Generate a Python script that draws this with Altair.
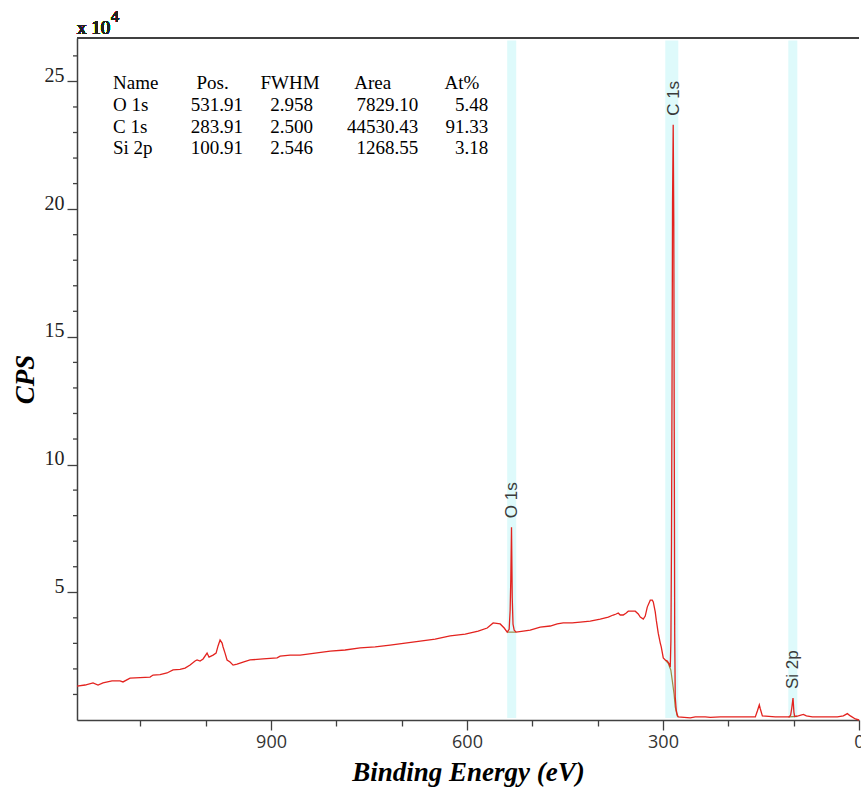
import altair as alt
import pandas as pd

# Survey spectrum: binding energy (eV) against intensity (CPS, units of 10^4)
binding_energy = [
    1197.0, 1184.7, 1172.5, 1164.8, 1157.2, 1143.4, 1131.2, 1126.6, 1115.8, 1100.5,
    1085.2, 1080.6, 1069.9, 1059.2, 1050.0, 1039.3, 1031.6, 1023.9, 1016.3, 1013.2,
    1008.6, 1004.0, 997.9, 994.9, 988.7, 984.1, 981.1, 978.0, 974.9, 973.4,
    970.4, 967.3, 962.7, 958.1, 952.0, 942.8, 932.1, 912.2, 890.7, 886.1,
    870.8, 855.5, 832.5, 809.5, 786.6, 763.6, 740.6, 717.7, 694.7, 671.7,
    648.8, 625.8, 602.8, 582.9, 569.1, 560.0, 549.2, 543.1, 538.5, 535.5,
    534.0, 533.0, 531.9, 530.8, 529.6, 527.8, 524.7, 514.0, 503.3, 488.0,
    472.6, 461.9, 452.7, 439.0, 426.7, 411.4, 396.1, 383.8, 376.2, 371.6,
    368.5, 365.5, 360.9, 356.3, 353.2, 342.5, 337.9, 334.8, 330.2, 327.2,
    324.1, 319.5, 316.4, 314.9, 311.9, 310.3, 307.3, 304.2, 302.7, 299.6,
    296.6, 293.5, 290.4, 288.9, 287.9, 287.0, 286.2, 285.4, 284.4, 283.5,
    282.8, 282.1, 281.3, 279.8, 278.2, 276.7, 258.3, 250.6, 235.3, 227.6,
    212.3, 181.7, 158.7, 155.6, 152.6, 151.0, 147.9, 128.1, 106.6, 104.6,
    103.0, 101.0, 99.6, 98.5, 92.9, 85.2, 80.6, 71.4, 51.6, 33.1,
    24.0, 17.8, 13.2, 5.6, 0.0,
]
cps = [
    1.33, 1.37, 1.45, 1.37, 1.45, 1.53, 1.53, 1.49, 1.64, 1.66,
    1.68, 1.76, 1.78, 1.84, 1.96, 1.98, 2.03, 2.15, 2.31, 2.35,
    2.31, 2.39, 2.62, 2.46, 2.54, 2.62, 2.90, 3.13, 3.01, 2.86,
    2.62, 2.35, 2.27, 2.15, 2.19, 2.27, 2.35, 2.39, 2.43, 2.50,
    2.54, 2.54, 2.62, 2.70, 2.74, 2.82, 2.86, 2.93, 3.01, 3.09,
    3.17, 3.29, 3.36, 3.48, 3.60, 3.80, 3.76, 3.60, 3.44, 3.55,
    4.30, 5.50, 7.55, 4.80, 3.75, 3.52, 3.44, 3.48, 3.52, 3.64,
    3.68, 3.76, 3.80, 3.80, 3.83, 3.87, 3.95, 4.03, 4.11, 4.15,
    4.19, 4.11, 4.11, 4.19, 4.26, 4.26, 4.15, 4.03, 3.95, 4.07,
    4.42, 4.69, 4.69, 4.62, 4.23, 3.91, 3.40, 3.01, 2.86, 2.43,
    2.35, 2.31, 2.19, 2.07, 3.10, 7.00, 13.0, 20.3, 23.3, 19.5,
    11.3, 3.40, 0.90, 0.39, 0.20, 0.12, 0.08, 0.12, 0.12, 0.10,
    0.12, 0.12, 0.12, 0.35, 0.59, 0.43, 0.16, 0.12, 0.12, 0.20,
    0.45, 0.86, 0.30, 0.14, 0.16, 0.22, 0.16, 0.12, 0.12, 0.12,
    0.16, 0.25, 0.16, 0.04, 0.0,
]

# Fitted components
comp_names = ["O 1s", "C 1s", "Si 2p"]
comp_pos = [531.91, 283.91, 100.91]
comp_fwhm = [2.958, 2.500, 2.546]
comp_area = [7829.10, 44530.43, 1268.55]
comp_at = [5.48, 91.33, 3.18]
comp_peak_cps = [7.55, 23.3, 0.86]

# Quantification regions (eV)
region_lo = [524.7, 276.6, 94.4]
region_hi = [538.5, 296.5, 108.2]

# Region backgrounds
bg_region = ["O 1s", "O 1s",
             "C 1s", "C 1s", "C 1s", "C 1s", "C 1s", "C 1s", "C 1s", "C 1s",
             "Si 2p", "Si 2p"]
bg_be = [538.5, 524.7,
         296.6, 292.0, 288.0, 285.9, 283.0, 281.3, 278.2, 276.7,
         108.2, 94.4]
bg_cps = [3.44, 3.44,
          2.35, 2.22, 1.95, 1.56, 1.00, 0.51, 0.16, 0.12,
          0.12, 0.14]

table_headers = ["Name", "Pos.", "FWHM", "Area", "At%"]

# Axis tick values
x_ticks = list(range(0, 1200, 100))
y_major = [5, 10, 15, 20, 25]
y_minor = [v for v in range(1, 27) if v % 5 != 0]

# ---- layout constants ----
W, H = 782, 682
X_DOMAIN = [1197, 0]
Y_DOMAIN = [0, 26.7]
BAND_Y = [0.08, 26.6]
SERIF = "Liberation Serif"
SANS = "Liberation Sans"
AXIS_COLOR = "#404040"

# table anchors in data coordinates
TABLE_ROW0 = 24.69
TABLE_STEP = 0.845
NAME_X = 1141.9
COL_RIGHT_X = [942.8, 835.6, 674.8, 567.6]
HEADER_X = [989.5, 870.8, 744.5, 607.7]

xs = alt.Scale(domain=X_DOMAIN, nice=False, zero=False)
ys = alt.Scale(domain=Y_DOMAIN, nice=False, zero=False)

x_axis = alt.Axis(
    values=x_ticks,
    labelExpr="datum.value % 300 === 0 ? datum.label : ''",
    tickSize={"condition": {"test": "datum.value % 300 === 0", "value": 10}, "value": 6},
    labelFont="Open Sans", labelFontSize=18, labelColor="#333333",
    labelPadding=3, labelFlush=False, labelOverlap=False,
    domainColor=AXIS_COLOR, domainWidth=1.5, tickColor=AXIS_COLOR, tickWidth=1.3,
    grid=False,
    title="Binding Energy (eV)", titleFont=SERIF, titleFontSize=27,
    titleFontStyle="italic", titleFontWeight="bold", titleColor="#000000",
    titleX=W / 2, titleY=60, titleBaseline="alphabetic", titleAlign="center",
)
y_axis = alt.Axis(
    values=y_major, tickSize=10,
    labelFont=SERIF, labelFontSize=20, labelColor="#222222",
    labelBaseline="alphabetic", labelPadding=3, labelOverlap=False, labelFlush=False,
    domainColor=AXIS_COLOR, domainWidth=1.5, tickColor=AXIS_COLOR, tickWidth=1.3,
    grid=False,
    title="CPS", titleFont=SERIF, titleFontSize=27,
    titleFontStyle="italic", titleFontWeight="bold", titleColor="#000000",
    titleAngle=270, titleX=-44, titleY=H / 2, titleBaseline="alphabetic",
    titleAlign="center",
)

spec_df = pd.DataFrame({"be": binding_energy, "cps": cps})
spec_df["idx"] = range(len(spec_df))

band_df = pd.DataFrame({"be": region_lo, "be2": region_hi,
                        "cps": [BAND_Y[0]] * 3, "cps2": [BAND_Y[1]] * 3})
bg_df = pd.DataFrame({"region": bg_region, "be": bg_be, "cps": bg_cps})
bg_df["idx"] = range(len(bg_df))
lab_df = pd.DataFrame({"name": comp_names, "be": comp_pos, "cps": comp_peak_cps})
minor_df = pd.DataFrame({"cps": y_minor})

rows = list(range(len(comp_names)))
tab_df = pd.DataFrame({
    "name": comp_names,
    "pos": comp_pos,
    "fwhm": comp_fwhm,
    "area": comp_area,
    "at": comp_at,
    "cps": [TABLE_ROW0 - (i + 1) * TABLE_STEP for i in rows],
})
head_df = pd.DataFrame({
    "label": table_headers,
    "be": [NAME_X] + HEADER_X,
    "cps": [TABLE_ROW0] * len(table_headers),
    "is_name": [True] + [False] * 4,
})

bands = alt.Chart(band_df).mark_rect(color="#defafb").encode(
    x=alt.X("be:Q", scale=xs, axis=x_axis), x2="be2:Q",
    y=alt.Y("cps:Q", scale=ys, axis=y_axis), y2="cps2:Q",
)

# short ticks between the labelled ones on the CPS axis
y_minor_ticks = alt.Chart(minor_df).mark_rule(color=AXIS_COLOR, strokeWidth=1.3).encode(
    y=alt.Y("cps:Q", scale=ys), x=alt.value(-4), x2=alt.value(0),
)

spectrum = alt.Chart(spec_df).mark_line(color="#e3231f", strokeWidth=1.3).encode(
    x=alt.X("be:Q", scale=xs), y=alt.Y("cps:Q", scale=ys), order="idx:Q",
)

backgrounds = alt.Chart(bg_df).mark_line(color="#9b8a45", strokeWidth=1.2).encode(
    x=alt.X("be:Q", scale=xs), y=alt.Y("cps:Q", scale=ys),
    detail="region:N", order="idx:Q",
)

peak_labels = alt.Chart(lab_df).mark_text(
    angle=270, align="left", baseline="middle", dx=9,
    font=SANS, fontSize=17, color="#3a3a3a",
).encode(x=alt.X("be:Q", scale=xs), y=alt.Y("cps:Q", scale=ys), text="name:N")

text_style = dict(font=SERIF, fontSize=19, color="#000000", baseline="alphabetic")

head_name = alt.Chart(head_df).transform_filter("datum.is_name").mark_text(
    align="left", **text_style
).encode(x=alt.X("be:Q", scale=xs), y=alt.Y("cps:Q", scale=ys), text="label:N")
head_cols = alt.Chart(head_df).transform_filter("!datum.is_name").mark_text(
    align="center", **text_style
).encode(x=alt.X("be:Q", scale=xs), y=alt.Y("cps:Q", scale=ys), text="label:N")

name_col = alt.Chart(tab_df).transform_calculate(be=str(NAME_X)).mark_text(
    align="left", **text_style
).encode(x=alt.X("be:Q", scale=xs), y=alt.Y("cps:Q", scale=ys), text="name:N")

num_layers = []
for field, fmt, xr in zip(["pos", "fwhm", "area", "at"],
                          [".2f", ".3f", ".2f", ".2f"], COL_RIGHT_X):
    num_layers.append(
        alt.Chart(tab_df).transform_calculate(be=str(xr)).mark_text(
            align="right", **text_style
        ).encode(
            x=alt.X("be:Q", scale=xs), y=alt.Y("cps:Q", scale=ys),
            text=alt.Text(f"{field}:Q", format=fmt),
        )
    )

top_frame = alt.Chart(spec_df).mark_rule(color=AXIS_COLOR, strokeWidth=1.5).encode(
    x=alt.value(0), x2=alt.value(W), y=alt.value(0)
)

exp_base = alt.Chart(spec_df).mark_text(
    align="left", font=SERIF, fontSize=19, color="#222222", baseline="alphabetic"
).encode(x=alt.value(0), y=alt.value(-4), text=alt.value("x 10"))
exp_sup = alt.Chart(spec_df).mark_text(
    align="left", font=SERIF, fontSize=16, color="#222222", baseline="alphabetic"
).encode(x=alt.value(34), y=alt.value(-16), text=alt.value("4"))

chart = alt.layer(
    bands, y_minor_ticks, backgrounds, spectrum, peak_labels,
    head_name, head_cols, name_col, *num_layers,
    top_frame, exp_base, exp_sup,
).properties(
    width=W, height=H,
    padding={"left": 77, "top": 38, "right": 2, "bottom": 67},
    autosize=alt.AutoSizeParams(type="none"),
    background="#ffffff",
).configure_view(stroke=None)

chart.save("out.html", embed_options={"renderer": "svg", "actions": False})
